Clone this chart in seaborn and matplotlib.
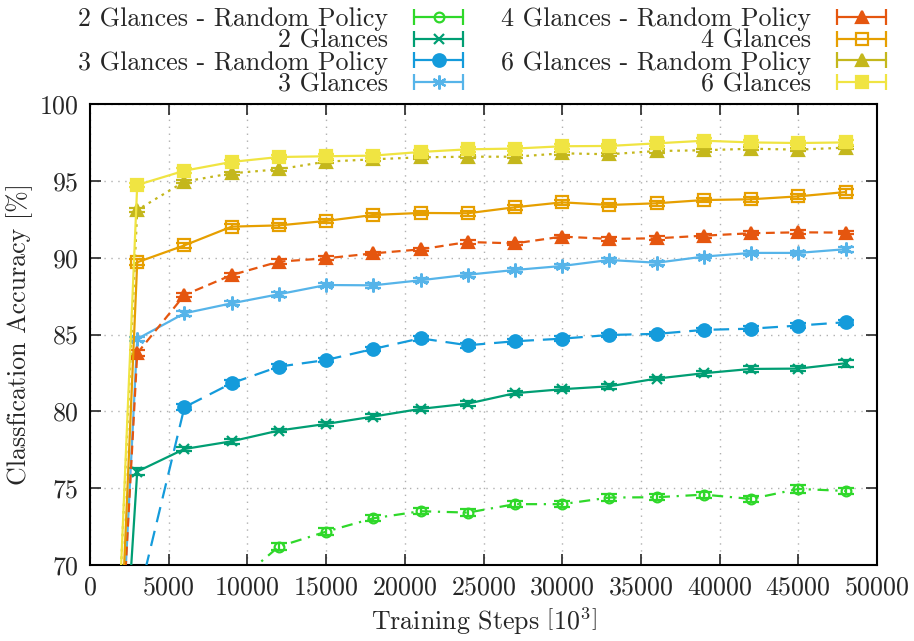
import numpy as np
import pandas as pd
import matplotlib
matplotlib.use('Agg')
import matplotlib.pyplot as plt
from matplotlib.lines import Line2D
from matplotlib.legend_handler import HandlerLine2D, HandlerTuple
import seaborn as sns

# training steps (x 10^3)
steps = [0, 3000, 6000, 9000, 12000, 15000, 18000, 21000, 24000, 27000,
         30000, 33000, 36000, 39000, 42000, 45000, 48000]

labels = ['2 Glances - Random Policy', '2 Glances',
          '3 Glances - Random Policy', '3 Glances',
          '4 Glances - Random Policy', '4 Glances',
          '6 Glances - Random Policy', '6 Glances']

# accuracies [%]
acc_2r = [20.0, 45.0, 60.0, 68.6, 71.2, 72.17, 73.04, 73.5, 73.41, 73.96,
          73.96, 74.39, 74.41, 74.58, 74.3, 74.95, 74.82]
acc_2 = [28.0, 76.08, 77.55, 78.05, 78.75, 79.18, 79.66, 80.16, 80.5, 81.18,
         81.44, 81.63, 82.13, 82.48, 82.76, 82.78, 83.13]
acc_3r = [25.0, 67.5, 80.27, 81.83, 82.91, 83.34, 84.06, 84.75, 84.3, 84.56,
          84.73, 84.97, 85.04, 85.3, 85.38, 85.58, 85.8]
acc_3 = [23.5, 84.71, 86.38, 87.03, 87.62, 88.22, 88.2, 88.53, 88.89, 89.2,
         89.46, 89.85, 89.67, 90.07, 90.31, 90.31, 90.55]
acc_4r = [26.5, 83.78, 87.57, 88.87, 89.74, 89.96, 90.28, 90.54, 91.02, 90.93,
          91.37, 91.22, 91.26, 91.43, 91.59, 91.65, 91.63]
acc_4 = [18.4, 89.7, 90.8, 92.02, 92.1, 92.39, 92.78, 92.91, 92.89, 93.28,
         93.6, 93.43, 93.54, 93.75, 93.8, 93.99, 94.27]
acc_6r = [25.0, 93.1, 94.95, 95.49, 95.75, 96.25, 96.4, 96.53, 96.57, 96.57,
          96.79, 96.73, 96.94, 96.99, 97.09, 97.03, 97.16]
acc_6 = [22.0, 94.73, 95.66, 96.23, 96.55, 96.6, 96.64, 96.88, 97.05, 97.1,
         97.25, 97.27, 97.44, 97.61, 97.5, 97.46, 97.5]

# standard errors [%]
err_2r = [0.5, 0.4, 0.3, 0.3, 0.2, 0.25, 0.2, 0.2, 0.25, 0.2,
          0.2, 0.2, 0.2, 0.2, 0.2, 0.25, 0.2]
err_2 = [0.5, 0.2, 0.15, 0.15, 0.12, 0.15, 0.18, 0.15, 0.15, 0.12,
         0.12, 0.15, 0.1, 0.15, 0.18, 0.18, 0.22]
err_3r = [0.5, 0.3, 0.2, 0.18, 0.18, 0.15, 0.15, 0.15, 0.15, 0.15,
          0.15, 0.15, 0.15, 0.15, 0.15, 0.15, 0.15]
err_3 = [0.5, 0.15, 0.15, 0.12, 0.15, 0.15, 0.15, 0.12, 0.12, 0.12,
         0.12, 0.12, 0.12, 0.12, 0.15, 0.15, 0.15]
err_4r = [0.5, 0.2, 0.15, 0.12, 0.15, 0.12, 0.12, 0.12, 0.12, 0.12,
          0.12, 0.12, 0.12, 0.12, 0.12, 0.12, 0.12]
err_4 = [0.5, 0.2, 0.18, 0.15, 0.15, 0.15, 0.15, 0.15, 0.15, 0.15,
         0.15, 0.15, 0.15, 0.15, 0.15, 0.18, 0.2]
err_6r = [0.5, 0.15, 0.12, 0.1, 0.1, 0.1, 0.1, 0.1, 0.1, 0.1,
          0.1, 0.1, 0.1, 0.1, 0.1, 0.1, 0.1]
err_6 = [0.5, 0.15, 0.15, 0.15, 0.15, 0.15, 0.15, 0.15, 0.15, 0.15,
         0.15, 0.15, 0.15, 0.15, 0.15, 0.15, 0.15]

accs = [acc_2r, acc_2, acc_3r, acc_3, acc_4r, acc_4, acc_6r, acc_6]
errs = [err_2r, err_2, err_3r, err_3, err_4r, err_4, err_6r, err_6]

# gnuplot-ish styles
colors = ['#2fd82a', '#009e73', '#149bdb', '#56b4e9',
          '#e5560f', '#e69f00', '#c4b71c', '#f0e442']
markers = ['o', 'x', 'o', (6, 2, 0), '^', 's', '^', 's']
filled = [False, True, True, True, True, False, True, True]
msizes = [7, 7, 9, 10, 8, 8, 8, 9]
styles = [(0, (5, 3, 1, 3)), '-', (0, (7, 4)), '-',
          (0, (4, 2.5)), '-', (0, (1.2, 2.2)), '-']

fs = 18.7
sns.set_style('ticks')
plt.rcParams.update({'font.family': 'cmr10', 'font.size': fs,
                     'mathtext.fontset': 'cm',
                     'axes.formatter.use_mathtext': True,
                     'axes.unicode_minus': False})

fig = plt.figure(figsize=(9.14, 6.41), dpi=100)
ax = fig.add_axes([90/914, 1 - 565/641, (877 - 90)/914, (565 - 104)/641])

lw = 1.6
for lab, acc, err, c, m, f, ms, ls in zip(labels, accs, errs, colors, markers, filled, msizes, styles):
    ax.errorbar(steps, acc, yerr=err, fmt='none', ecolor=c, elinewidth=lw,
                capsize=6, capthick=lw, zorder=2)
    sns.lineplot(x=steps, y=acc, ax=ax, color=c, linewidth=lw, linestyle=ls,
                 marker=m, markersize=ms, markeredgecolor=c,
                 markerfacecolor=c if f else 'none', markeredgewidth=1.6,
                 legend=False, zorder=3)

ax.set_xlim(0, 50000)
ax.set_ylim(70, 100)
ax.set_xticks(np.arange(0, 50001, 5000))
ax.set_yticks(np.arange(70, 101, 5))
ax.grid(True, linestyle=(0, (1, 4)), color='#b0b0b0', linewidth=1)
ax.tick_params(direction='in', length=8, width=1.2, top=True, right=True,
               labelsize=fs, pad=8)
for s in ax.spines.values():
    s.set_linewidth(1.5)
    s.set_color('black')
    s.set_visible(True)

ax.set_xlabel(r'Training Steps $\left[10^3\right]$', fontsize=fs)
ax.set_ylabel('Classfication Accuracy [%]', fontsize=fs)

# legend: text right-aligned, errorbar-style keys
handles = []
hmap = {tuple: HandlerTuple(ndivide=1, pad=0)}
for c, m, f, ms in zip(colors, markers, filled, msizes):
    cap = Line2D([], [], color=c, linewidth=lw, marker='|', markersize=12,
                 markeredgewidth=lw)
    mk = Line2D([], [], color=c, linestyle='none', marker=m, markersize=ms,
                markeredgecolor=c, markerfacecolor=c if f else 'none',
                markeredgewidth=1.6)
    hmap[cap] = HandlerLine2D(numpoints=2)
    handles.append((cap, mk))

fig.legend(handles, labels, handler_map=hmap, ncol=2, markerfirst=False,
           loc='upper right', bbox_to_anchor=(907/914, 1 + 6/641),
           frameon=False, borderpad=0, handlelength=2.5, handletextpad=0.7,
           columnspacing=1.15, labelspacing=-0.07, fontsize=fs)

fig.savefig('out.png', dpi=100)
